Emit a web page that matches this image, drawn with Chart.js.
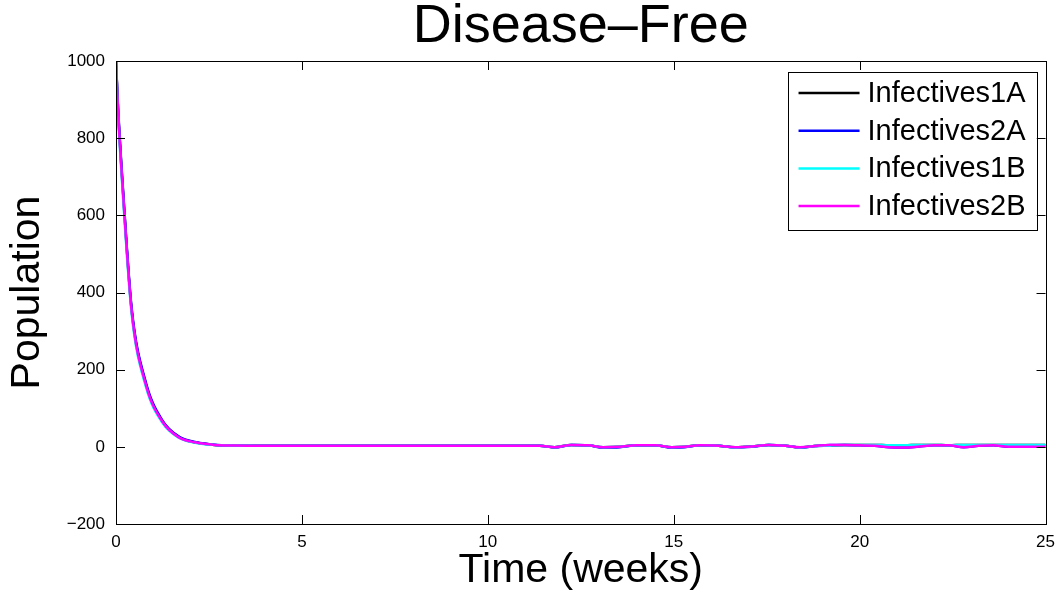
<!DOCTYPE html>
<html>
<head>
<meta charset="utf-8">
<script src="https://cdn.jsdelivr.net/npm/chart.js@4.4.1/dist/chart.umd.min.js"></script>
<style>
  html, body { margin: 0; padding: 0; background: #ffffff; }
  #wrap { width: 1063px; height: 600px; }
</style>
</head>
<body>
<div id="wrap"><canvas id="c" width="1063" height="600"></canvas></div>
<script>
// ---- data ----
const chartTitle = 'Disease\u2013Free';
const xAxisTitle = 'Time (weeks)';
const yAxisTitle = 'Population';
const xTickValues = [0, 5, 10, 15, 20, 25];
const yTickValues = [-200, 0, 200, 400, 600, 800, 1000];
const seriesNames = ['Infectives1A', 'Infectives2A', 'Infectives1B', 'Infectives2B'];
const seriesColors = ['#000000', '#0000ff', '#00ffff', '#ff00ff'];

const times = [0, 0.05, 0.2, 0.42, 0.8, 1.25, 1.7, 2.16, 2.65, 3.2,
  4, 6, 8, 10, 11.4,
  11.8, 12.25, 12.7, 13.1, 13.55,
  14.0, 14.5, 14.95, 15.3, 15.7,
  16.2, 16.65, 17.1, 17.55, 18.0,
  18.4, 18.8, 19.2, 19.6, 20.0,
  20.4, 20.8, 21.2, 21.6, 22.0,
  22.4, 22.8, 23.2, 23.6, 24.0,
  24.4, 24.8, 25];

const infectives1A = [1000, 885, 645, 355, 164, 66, 25, 11, 5, 3.5,
  3, 3, 3, 3, 3,
  -1, 5, 4, -1, 0,
  4, 4, -1, 0, 4,
  3, -1, 1, 5, 3,
  -2, 2, 3, 5, 5,
  5, 4, 4, 5, 5,
  4, 5, 5, 5, 5,
  5, 5, 5];

const infectives2A = [1000, 890, 650, 360, 168, 68, 26, 12, 5.5, 3.6,
  3, 3, 3, 3, 3,
  -2, 5, 4, -2, -1,
  4, 4, -2, -1, 4,
  3, -2, 0, 5, 3,
  -2, 2, 5, 5, 4,
  3, -1, -2, 1, 4,
  4, -1, 3, 4, 0,
  0, 0, 0];

const infectives1B = [1000, 875, 632, 346, 157, 62, 23, 10, 5, 3.4,
  3, 3, 3, 3, 3,
  -1, 5, 4, -1, 0,
  4, 4, -1, 0, 4,
  3, -2, 1, 5, 3,
  -2, 2, 3, 5, 5,
  5, 4, 4, 5, 5,
  4, 5, 5, 5, 5,
  5, 5, 5];

const infectives2B = [1000, 880, 640, 352, 162, 65, 24, 11, 5, 3.5,
  3, 3, 3, 3, 3,
  -1, 5, 4, -1, 0,
  4, 4, -1, 0, 4,
  3, -1, 1, 5, 3,
  -1, 2, 5, 5, 4,
  3, -1, -2, 1, 4,
  4, -1, 3, 4, 0,
  0, 0, 0];

const seriesValues = [infectives1A, infectives2A, infectives1B, infectives2B];

// ---- helpers ----
function fmtTick(v) {
  return (v < 0 ? '\u2212' + Math.abs(v) : String(v));
}

const FONT = "'Liberation Sans', Arial, Helvetica, sans-serif";

const boxAndTicks = {
  id: 'boxAndTicks',
  afterDatasetsDraw(chart) {
    const ctx = chart.ctx;
    const a = chart.chartArea;
    const xs = chart.scales.x, ys = chart.scales.y;
    const len = 9;
    ctx.save();
    ctx.strokeStyle = '#000000';
    ctx.lineWidth = 1;
    ctx.beginPath();
    xTickValues.forEach(v => {
      const px = Math.round(xs.getPixelForValue(v)) + 0.5;
      ctx.moveTo(px, a.bottom); ctx.lineTo(px, a.bottom - len);
      ctx.moveTo(px, a.top); ctx.lineTo(px, a.top + len);
    });
    yTickValues.forEach(v => {
      const py = Math.round(ys.getPixelForValue(v)) + 0.5;
      ctx.moveTo(a.left, py); ctx.lineTo(a.left + len, py);
      ctx.moveTo(a.right, py); ctx.lineTo(a.right - len, py);
    });
    ctx.stroke();
    ctx.strokeRect(Math.round(a.left) + 0.5, Math.round(a.top) + 0.5,
      Math.round(a.right - a.left), Math.round(a.bottom - a.top));
    ctx.restore();
  }
};

const boxLegend = {
  id: 'boxLegend',
  afterDraw(chart) {
    const ctx = chart.ctx;
    const a = chart.chartArea;
    const x0 = a.right - 258, y0 = a.top + 11, w = 249, h = 158;
    ctx.save();
    ctx.fillStyle = '#ffffff';
    ctx.fillRect(x0, y0, w, h);
    ctx.strokeStyle = '#000000';
    ctx.lineWidth = 1;
    ctx.strokeRect(Math.round(x0) + 0.5, Math.round(y0) + 0.5, w, h);
    ctx.font = '29px ' + FONT;
    ctx.textBaseline = 'middle';
    ctx.textAlign = 'left';
    chart.data.datasets.forEach((ds, i) => {
      const yy = y0 + 21 + i * 37.7;
      ctx.strokeStyle = ds.borderColor;
      ctx.lineWidth = 2.5;
      ctx.beginPath();
      ctx.moveTo(x0 + 11, yy); ctx.lineTo(x0 + 72, yy);
      ctx.stroke();
      ctx.fillStyle = '#000000';
      ctx.fillText(ds.label, x0 + 80, yy + 1);
    });
    ctx.restore();
  }
};

const datasets = seriesNames.map((name, i) => ({
  label: name,
  data: times.map((t, k) => ({ x: t, y: seriesValues[i][k] })),
  borderColor: seriesColors[i],
  backgroundColor: seriesColors[i],
  borderWidth: 2.5,
  pointRadius: 0,
  fill: false,
  cubicInterpolationMode: 'monotone',
  order: seriesNames.length - 1 - i
}));

new Chart(document.getElementById('c'), {
  type: 'line',
  data: { datasets },
  options: {
    responsive: false,
    animation: false,
    devicePixelRatio: 1,
    layout: { padding: { left: 0, right: 15, top: 0, bottom: 0 } },
    plugins: {
      legend: { display: false },
      tooltip: { enabled: false },
      title: {
        display: true,
        fullSize: false,
        text: chartTitle,
        color: '#000000',
        font: { family: FONT, size: 54, weight: 'normal', lineHeight: 0.9 },
        padding: { top: 3, bottom: 9.4 }
      }
    },
    scales: {
      x: {
        type: 'linear',
        min: 0, max: 25,
        grid: { display: false, drawTicks: false },
        border: { display: false },
        afterBuildTicks: s => { s.ticks = xTickValues.map(v => ({ value: v })); },
        afterFit: s => { s.height = 76; },
        ticks: {
          color: '#000000',
          font: { family: FONT, size: 17 },
          padding: 8,
          maxRotation: 0,
          autoSkip: false,
          callback: v => fmtTick(v)
        },
        title: {
          display: true,
          text: xAxisTitle,
          color: '#000000',
          font: { family: FONT, size: 41, lineHeight: 1.2 },
          padding: { top: 0, bottom: 5 }
        }
      },
      y: {
        min: -200, max: 1000,
        grid: { display: false, drawTicks: false },
        border: { display: false },
        afterBuildTicks: s => { s.ticks = yTickValues.map(v => ({ value: v })); },
        afterFit: s => { s.width = 116; },
        ticks: {
          color: '#000000',
          font: { family: FONT, size: 17 },
          padding: 11,
          autoSkip: false,
          callback: v => fmtTick(v)
        },
        title: {
          display: true,
          text: yAxisTitle,
          color: '#000000',
          font: { family: FONT, size: 41, lineHeight: 1.2 },
          padding: { top: 3, bottom: 0 }
        }
      }
    }
  },
  plugins: [boxAndTicks, boxLegend]
});
</script>
</body>
</html>
